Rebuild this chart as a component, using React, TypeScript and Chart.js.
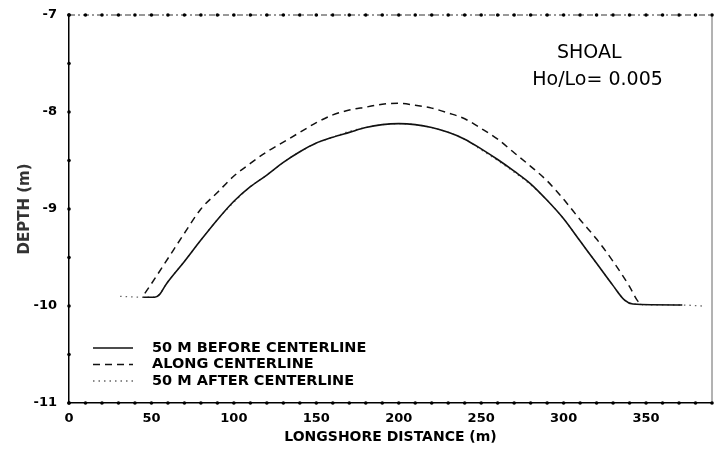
import React, { useEffect, useRef } from "react";
import { Chart, registerables } from "chart.js";

Chart.register(...registerables);

// ---- axis settings ----
const xMin = 0;
const xMax = 390;
const xStep = 50;
const xMinorStep = 10;
const yMin = -11;
const yMax = -7;
const yStep = 1;
const yMinorStep = 0.5;

const xTitle = "LONGSHORE DISTANCE (m)";
const yTitle = "DEPTH (m)";

// ---- series ----
const seriesLabels = ["50 M BEFORE CENTERLINE", "ALONG CENTERLINE", "50 M AFTER CENTERLINE"];

const beforeX = [45, 52, 55, 58, 60, 70, 80, 90, 100, 110, 120, 130, 140, 150, 160, 170, 180, 190, 200, 210, 220, 230, 240, 250, 260, 270, 280, 290, 300, 310, 320, 330, 337, 342, 372];
const beforeY = [-9.91, -9.91, -9.88, -9.8, -9.75, -9.54, -9.32, -9.11, -8.92, -8.77, -8.65, -8.52, -8.41, -8.32, -8.26, -8.21, -8.16, -8.13, -8.12, -8.13, -8.16, -8.21, -8.28, -8.38, -8.49, -8.61, -8.74, -8.91, -9.1, -9.33, -9.56, -9.79, -9.94, -9.98, -9.99];

const alongX = [46, 50, 60, 70, 80, 90, 100, 110, 120, 130, 140, 150, 160, 170, 180, 190, 200, 210, 220, 230, 240, 250, 260, 270, 280, 290, 300, 310, 320, 330, 340, 345, 348];
const alongY = [-9.87, -9.77, -9.51, -9.25, -9.0, -8.83, -8.66, -8.53, -8.41, -8.31, -8.21, -8.11, -8.03, -7.98, -7.95, -7.92, -7.91, -7.93, -7.96, -8.01, -8.07, -8.17, -8.28, -8.42, -8.56, -8.71, -8.9, -9.11, -9.31, -9.54, -9.8, -9.95, -9.99];

const afterX = [31, 45, 52, 55, 58, 60, 70, 80, 90, 100, 110, 120, 130, 140, 150, 160, 170, 180, 190, 200, 210, 220, 230, 240, 250, 260, 270, 280, 290, 300, 310, 320, 330, 337, 342, 372, 384];
const afterY = [-9.9, -9.91, -9.91, -9.88, -9.8, -9.75, -9.54, -9.32, -9.11, -8.93, -8.77, -8.65, -8.52, -8.41, -8.32, -8.26, -8.2, -8.16, -8.13, -8.12, -8.13, -8.16, -8.21, -8.28, -8.39, -8.5, -8.62, -8.75, -8.91, -9.1, -9.33, -9.56, -9.79, -9.94, -9.98, -9.99, -10.0];

// ---- annotation ----
const noteLines = ["SHOAL", "Ho/Lo= 0.005"];
const noteX = [296, 281];
const noteY = [-7.39, -7.67];

const toPoints = (xs: number[], ys: number[]) => xs.map((x, i) => ({ x, y: ys[i] }));

const overlayPlugin = {
  id: "overlay",
  afterDraw(chart: any) {
    const { ctx, chartArea: a, scales } = chart;
    const xs = scales.x;
    const ys = scales.y;
    ctx.save();
    // top border (dash-dot)
    ctx.strokeStyle = "#333";
    ctx.lineWidth = 1;
    ctx.setLineDash([6, 3, 2, 3]);
    ctx.beginPath();
    ctx.moveTo(a.left, a.top);
    ctx.lineTo(a.right, a.top);
    ctx.stroke();
    ctx.setLineDash([]);
    // right border
    ctx.strokeStyle = "#666";
    ctx.beginPath();
    ctx.moveTo(a.right, a.top);
    ctx.lineTo(a.right, a.bottom);
    ctx.stroke();
    // minor tick dots
    ctx.fillStyle = "#000";
    const dot = (px: number, py: number) => {
      ctx.beginPath();
      ctx.arc(px, py, 1.8, 0, Math.PI * 2);
      ctx.fill();
    };
    for (let v = xMin; v <= xMax + 1e-6; v += xMinorStep) {
      const px = xs.getPixelForValue(v);
      dot(px, a.top);
      dot(px, a.bottom);
    }
    for (let v = yMin; v <= yMax + 1e-6; v += yMinorStep) {
      dot(a.left, ys.getPixelForValue(v));
    }
    // annotation
    ctx.fillStyle = "#000";
    ctx.font = "19px 'DejaVu Sans'";
    ctx.textAlign = "left";
    ctx.textBaseline = "middle";
    noteLines.forEach((t, i) => {
      ctx.fillText(t, xs.getPixelForValue(noteX[i]), ys.getPixelForValue(noteY[i]));
    });
    // legend
    ctx.font = "bold 14.5px 'DejaVu Sans'";
    chart.data.datasets.forEach((ds: any, i: number) => {
      const yRow = a.bottom - 55 + i * 16.5;
      ctx.strokeStyle = ds.borderColor;
      ctx.lineWidth = ds.borderWidth;
      ctx.setLineDash(ds.borderDash || []);
      ctx.beginPath();
      ctx.moveTo(a.left + 24, yRow);
      ctx.lineTo(a.left + 64, yRow);
      ctx.stroke();
      ctx.setLineDash([]);
      ctx.fillStyle = "#000";
      ctx.fillText(ds.label, a.left + 83, yRow);
    });
    ctx.restore();
  },
};

export default function App() {
  const canvasRef = useRef<HTMLCanvasElement | null>(null);

  useEffect(() => {
    document.body.style.margin = "0";
    const canvas = canvasRef.current;
    if (!canvas) return;
    const tickFont = { family: "'DejaVu Sans'", size: 13, weight: "bold" as const };
    const chart = new Chart(canvas, {
      type: "line",
      data: {
        datasets: [
          {
            label: seriesLabels[0],
            data: toPoints(beforeX, beforeY),
            borderColor: "#111",
            borderWidth: 1.6,
            borderDash: [],
            pointRadius: 0,
            cubicInterpolationMode: "monotone",
          },
          {
            label: seriesLabels[1],
            data: toPoints(alongX, alongY),
            borderColor: "#111",
            borderWidth: 1.5,
            borderDash: [7, 5],
            pointRadius: 0,
            cubicInterpolationMode: "monotone",
          },
          {
            label: seriesLabels[2],
            data: toPoints(afterX, afterY),
            borderColor: "#666",
            borderWidth: 1.3,
            borderDash: [1.5, 4],
            pointRadius: 0,
            cubicInterpolationMode: "monotone",
          },
        ],
      },
      options: {
        animation: false,
        responsive: true,
        maintainAspectRatio: false,
        layout: { padding: { top: 15, right: 3, left: 0, bottom: 0 } },
        plugins: {
          legend: { display: false },
          tooltip: { enabled: false },
        },
        scales: {
          x: {
            type: "linear",
            min: xMin,
            max: xMax,
            grid: { display: false, drawTicks: false },
            border: { display: true, color: "#000", width: 1.5 },
            ticks: {
              stepSize: xStep,
              includeBounds: false,
              color: "#000",
              font: tickFont,
              padding: 8,
              maxRotation: 0,
            },
            title: {
              display: true,
              text: xTitle,
              color: "#000",
              font: { family: "'DejaVu Sans'", size: 14, weight: "bold" },
              padding: { top: 0, bottom: 9 },
            },
            afterFit: (scale: any) => {
              scale.height = 52;
              scale.paddingLeft = 0;
              scale.paddingRight = 0;
            },
          },
          y: {
            type: "linear",
            min: yMin,
            max: yMax,
            grid: { display: false, drawTicks: false },
            border: { display: true, color: "#000", width: 1.5 },
            ticks: {
              stepSize: yStep,
              color: "#000",
              font: tickFont,
              padding: 12,
            },
            title: {
              display: true,
              text: yTitle,
              color: "#333",
              font: { family: "'DejaVu Sans'", size: 15, weight: "bold" },
              padding: { top: 16, bottom: 0 },
            },
            afterFit: (scale: any) => {
              scale.width = 69;
              scale.paddingTop = 0;
              scale.paddingBottom = 0;
            },
          },
        },
      },
      plugins: [overlayPlugin],
    });
    return () => chart.destroy();
  }, []);

  return (
    <div style={{ position: "fixed", left: 0, top: 0, width: 715, height: 455, background: "#fff" }}>
      <canvas ref={canvasRef} />
    </div>
  );
}
